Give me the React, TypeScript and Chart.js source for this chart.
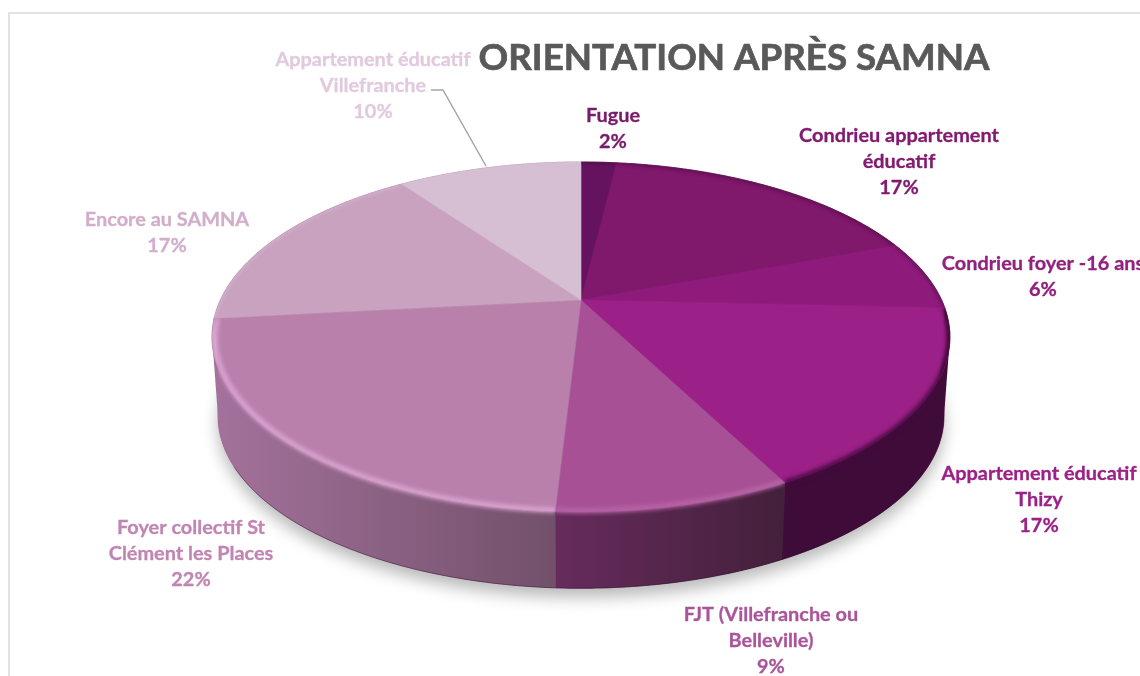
import React, { useEffect, useRef } from "react";
import { Chart, registerables } from "chart.js";

Chart.register(...registerables);

const categories = [
  "Fugue",
  "Condrieu appartement éducatif",
  "Condrieu foyer -16 ans",
  "Appartement éducatif Thizy",
  "FJT (Villefranche ou Belleville)",
  "Foyer collectif St Clément les Places",
  "Encore au SAMNA",
  "Appartement éducatif Villefranche",
];
const values = [1.9, 17.4, 6.4, 16.7, 8.5, 22.4, 16.8, 9.9];
const titleText = "ORIENTATION APRÈS SAMNA";

const faceColors = ["#66135f", "#80186c", "#8e1b7c", "#9b2087", "#a85096", "#b980ac", "#c8a2bf", "#d6bfd3"];
const labelColors = ["#7a1a6a", "#821a70", "#92207f", "#9b2088", "#aa559a", "#c085b3", "#d3aecb", "#e2cade"];
const wallFrom = ["#400c3a", "#400c3a", "#400c3a", "#3f0b39", "#662b5c", "#a4729c", "#a4729c", "#a4729c"];
const wallTo = ["#400c3a", "#400c3a", "#400c3a", "#3f0b39", "#43203b", "#72506a", "#a4729c", "#a4729c"];
const rimColors = ["#3c0836", "#3c0836", "#3c0836", "#45093d", "#b766a6", "#dca6d2", "#d9bcd3", "#d6bfd3"];

const labelLines = [
  ["Fugue"],
  ["Condrieu appartement", "éducatif"],
  ["Condrieu foyer -16 ans"],
  ["Appartement éducatif", "Thizy"],
  ["FJT (Villefranche ou", "Belleville)"],
  ["Foyer collectif St", "Clément les Places"],
  ["Encore au SAMNA"],
  ["Appartement éducatif", "Villefranche"],
];
const labelAnchors = [
  [613, 115.5], [899, 135.5], [1043, 263.5], [1039, 473.5],
  [771, 614.5], [191, 527.5], [167, 219.5], [373, 59.5],
];

const APEX_X = 581, APEX_Y = 300;
const PERSP = 0.2115, KY = 167.2, RX = 360.6;
const ELL_Y = 337, WALL_SCALE = 0.984, WALL_DY = 79;
const LABEL_FONT = "bold 19.9px Lato";
const LINE_GAP = 26;

function project(a: number, scale = 1, dy = 0): [number, number] {
  const u = Math.cos(a), v = Math.sin(a), w = 1 - PERSP * v;
  const x = APEX_X + (RX * u) / w;
  const y = APEX_Y + (KY * v) / w;
  return [APEX_X + (x - APEX_X) * scale, ELL_Y + (y - ELL_Y) * scale + dy];
}
function arcPoints(a1: number, a2: number, scale = 1, dy = 0) {
  const n = Math.max(2, Math.ceil((a2 - a1) / 0.01));
  const pts: [number, number][] = [];
  for (let i = 0; i <= n; i++) pts.push(project(a1 + ((a2 - a1) * i) / n, scale, dy));
  return pts;
}
function trace(ctx: CanvasRenderingContext2D, pts: [number, number][]) {
  ctx.beginPath();
  pts.forEach((p, i) => (i ? ctx.lineTo(p[0], p[1]) : ctx.moveTo(p[0], p[1])));
}
function wallPolygon(a1: number, a2: number) {
  return [...arcPoints(a1, a2), ...arcPoints(a1, a2, WALL_SCALE, WALL_DY).reverse()];
}
// Sliver between the two ellipses' silhouettes, from the extreme point towards the front.
function silhouette(side: 1 | -1) {
  const e = side > 0 ? Math.asin(PERSP) : Math.PI - Math.asin(PERSP);
  const e2 = e + side * 0.7;
  return [project(e), project(e, WALL_SCALE, WALL_DY), project(e2, WALL_SCALE, WALL_DY), project(e2)];
}

const piePerspective = {
  id: "piePerspective",
  beforeDraw(chart: any) {
    const ctx: CanvasRenderingContext2D = chart.ctx;
    ctx.save();
    ctx.fillStyle = "#ffffff";
    ctx.fillRect(0, 0, chart.width, chart.height);
    ctx.strokeStyle = "#d9d9d9";
    ctx.lineWidth = 1.5;
    ctx.beginPath();
    ctx.moveTo(9, chart.height);
    ctx.lineTo(9, 13);
    ctx.lineTo(chart.width, 13);
    ctx.stroke();
    ctx.restore();
  },
  beforeDatasetsDraw(chart: any) {
    const ctx: CanvasRenderingContext2D = chart.ctx;
    const arcs = chart.getDatasetMeta(0).data as any[];
    ctx.save();

    // soft shadow under the disc
    ctx.save();
    ctx.shadowColor = "rgba(0,0,0,0.28)";
    ctx.shadowBlur = 16;
    ctx.shadowOffsetY = 9;
    ctx.fillStyle = "#55304f";
    trace(ctx, arcPoints(0, Math.PI * 2, WALL_SCALE, WALL_DY));
    ctx.closePath();
    ctx.fill();
    ctx.restore();

    // side walls
    ctx.fillStyle = wallFrom[3];
    trace(ctx, silhouette(1));
    ctx.closePath();
    ctx.fill();
    ctx.fillStyle = wallFrom[5];
    trace(ctx, silhouette(-1));
    ctx.closePath();
    ctx.fill();
    arcs.forEach((arc, i) => {
      const poly = wallPolygon(arc.startAngle, arc.endAngle);
      const xs = poly.map((p) => p[0]);
      const g = ctx.createLinearGradient(Math.min(...xs), 0, Math.max(...xs), 0);
      g.addColorStop(0, wallFrom[i]);
      g.addColorStop(1, wallTo[i]);
      ctx.fillStyle = g;
      ctx.strokeStyle = g;
      ctx.lineWidth = 0.6;
      trace(ctx, poly);
      ctx.closePath();
      ctx.fill();
      ctx.stroke();
    });

    // thin dark line at the foot of the wall
    ctx.strokeStyle = "rgba(40,10,36,0.35)";
    ctx.lineWidth = 1;
    trace(ctx, arcPoints(0.6, Math.PI - 0.5, WALL_SCALE, WALL_DY));
    ctx.stroke();

    // top faces
    arcs.forEach((arc, i) => {
      const wedge: [number, number][] = [[APEX_X, APEX_Y], ...arcPoints(arc.startAngle, arc.endAngle)];
      ctx.fillStyle = faceColors[i];
      ctx.strokeStyle = faceColors[i];
      ctx.lineWidth = 0.6;
      trace(ctx, wedge);
      ctx.closePath();
      ctx.fill();
      ctx.stroke();
    });

    // bevel on the outer rim of each slice
    arcs.forEach((arc, i) => {
      const a1 = arc.startAngle, a2 = arc.endAngle;
      const front = Math.sin((a1 + a2) / 2) > -0.1;
      const regions = front
        ? [[[APEX_X, APEX_Y], ...arcPoints(a1, a2)], wallPolygon(a1, a2)]
        : [[[APEX_X, APEX_Y], ...arcPoints(a1, a2)]];
      regions.forEach((region) => {
        ctx.save();
        trace(ctx, region as [number, number][]);
        ctx.closePath();
        ctx.clip();
        ctx.filter = "blur(2px)";
        ctx.strokeStyle = rimColors[i];
        ctx.lineWidth = front ? 5 : 2;
        trace(ctx, arcPoints(a1, a2, front && i !== 3 ? 0.992 : 1));
        ctx.stroke();
        ctx.restore();
      });
    });

    ctx.restore();
    return false; // the slices above replace the library's flat circular arcs
  },
  afterDraw(chart: any) {
    const ctx: CanvasRenderingContext2D = chart.ctx;
    const total = values.reduce((s, v) => s + v, 0);
    ctx.save();
    // leader line of the last label
    ctx.strokeStyle = "#a6a6a6";
    ctx.lineWidth = 1.5;
    ctx.beginPath();
    ctx.moveTo(431, 90);
    ctx.lineTo(443, 90);
    ctx.lineTo(486, 166);
    ctx.stroke();

    ctx.textAlign = "center";
    ctx.textBaseline = "middle";
    ctx.lineJoin = "round";
    ctx.font = "bold 36.7px Lato";
    ctx.fillStyle = "#595959";
    ctx.strokeStyle = "#595959";
    ctx.lineWidth = 0.7;
    ctx.strokeText(titleText, 734, 58);
    ctx.fillText(titleText, 734, 58);

    ctx.font = LABEL_FONT;
    ctx.lineWidth = 0.3;
    labelLines.forEach((lines, i) => {
      ctx.fillStyle = labelColors[i];
      ctx.strokeStyle = labelColors[i];
      const [x, y] = labelAnchors[i];
      const all = [...lines, `${Math.round((values[i] / total) * 100)}%`];
      all.forEach((t, j) => {
        ctx.strokeText(t, x, y + j * LINE_GAP);
        ctx.fillText(t, x, y + j * LINE_GAP);
      });
    });
    ctx.restore();
  },
};

export default function App() {
  const ref = useRef<HTMLCanvasElement>(null);
  useEffect(() => {
    document.body.style.margin = "0";
    const chart = new Chart(ref.current!, {
      type: "pie",
      data: {
        labels: categories,
        datasets: [{ data: values, backgroundColor: faceColors }],
      },
      options: {
        responsive: false,
        animation: false,
        plugins: { legend: { display: false }, tooltip: { enabled: false } },
      },
      plugins: [piePerspective],
    } as any);
    return () => chart.destroy();
  }, []);
  return <canvas ref={ref} width={1140} height={676} style={{ display: "block" }} />;
}
